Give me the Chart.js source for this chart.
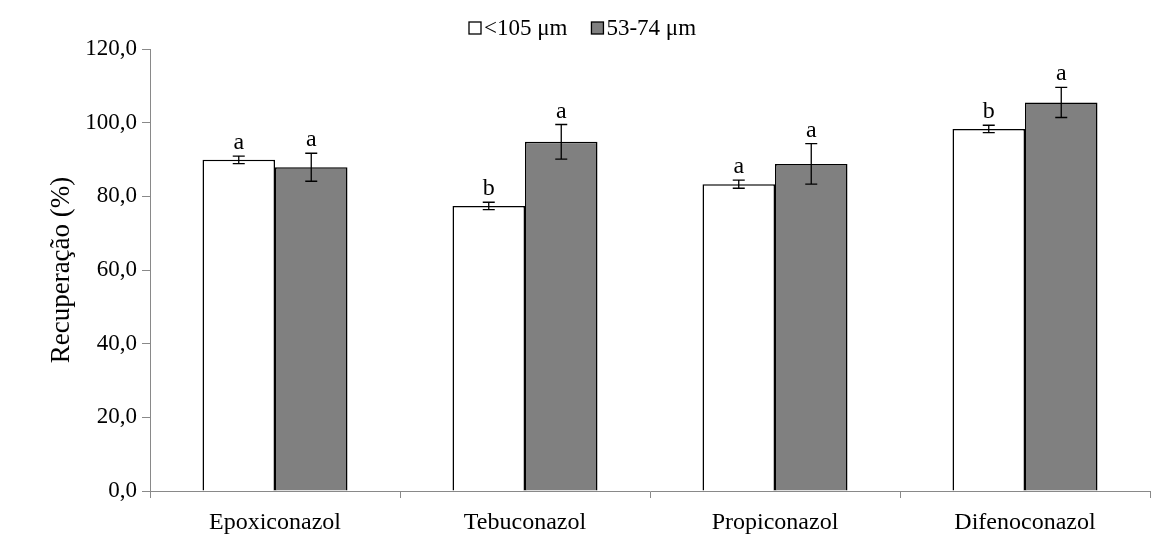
<!DOCTYPE html>
<html>
<head>
<meta charset="utf-8">
<script src="https://cdn.jsdelivr.net/npm/chart.js@4.4.0/dist/chart.umd.min.js"></script>
<style>
  html, body { margin: 0; padding: 0; background: #fff; }
  #wrap { width: 1151px; height: 539px; }
</style>
</head>
<body>
<div id="wrap"><canvas id="chart" width="1151" height="539"></canvas></div>
<script>
const categories = ["Epoxiconazol", "Tebuconazol", "Propiconazol", "Difenoconazol"]
const seriesNames = ["<105 μm", "53-74 μm"]
const fineValues = [89.9, 77.4, 83.3, 98.3]
const fineErrors = [1.0, 1.0, 1.1, 1.0]
const fineLetters = ["a", "b", "a", "b"]
const coarseValues = [87.9, 94.8, 88.8, 105.5]
const coarseErrors = [3.8, 4.7, 5.5, 4.1]
const coarseLetters = ["a", "a", "a", "a"]
const yTicks = [0, 20, 40, 60, 80, 100, 120]

const serif = "'Liberation Serif', 'Times New Roman', serif"
const axisGray = "#898989"

// error bars + significance letters on top of each bar
const errorBarPlugin = {
  id: "errorBars",
  afterDatasetsDraw(chart) {
    const ctx = chart.ctx
    const yScale = chart.scales.y
    chart.data.datasets.forEach((ds, i) => {
      const meta = chart.getDatasetMeta(i)
      meta.data.forEach((bar, j) => {
        const v = ds.data[j]
        const e = ds.errors[j]
        const yTop = yScale.getPixelForValue(v + e)
        const yBot = yScale.getPixelForValue(v - e)
        ctx.save()
        ctx.strokeStyle = "#000"
        ctx.lineWidth = 1.3
        ctx.beginPath()
        ctx.moveTo(bar.x, yTop); ctx.lineTo(bar.x, yBot)
        ctx.moveTo(bar.x - 6, yTop); ctx.lineTo(bar.x + 6, yTop)
        ctx.moveTo(bar.x - 6, yBot); ctx.lineTo(bar.x + 6, yBot)
        ctx.stroke()
        ctx.fillStyle = "#000"
        ctx.font = "24px " + serif
        ctx.textAlign = "center"
        ctx.textBaseline = "alphabetic"
        ctx.fillText(ds.letters[j], bar.x, yTop - 7)
        ctx.restore()
      })
    })
  }
}

// legend drawn manually so it sits where the original has it
const legendPlugin = {
  id: "customLegend",
  afterDraw(chart) {
    const ctx = chart.ctx
    ctx.save()
    ctx.font = "23px " + serif
    ctx.textBaseline = "middle"
    let x = 469
    const y = 28
    chart.data.datasets.forEach((ds) => {
      ctx.fillStyle = ds.backgroundColor
      ctx.fillRect(x, y - 6, 12, 12)
      ctx.strokeStyle = "#000"
      ctx.lineWidth = 1.3
      ctx.strokeRect(x, y - 6, 12, 12)
      ctx.fillStyle = "#000"
      ctx.fillText(ds.label, x + 15, y + 1)
      x += 15 + ctx.measureText(ds.label).width + 24
    })
    ctx.restore()
  }
}

new Chart(document.getElementById("chart"), {
  type: "bar",
  data: {
    labels: categories,
    datasets: [
      {
        label: seriesNames[0],
        data: fineValues,
        errors: fineErrors,
        letters: fineLetters,
        backgroundColor: "#ffffff",
        borderColor: "#000000",
        borderWidth: 1.5,
        borderSkipped: "bottom"
      },
      {
        label: seriesNames[1],
        data: coarseValues,
        errors: coarseErrors,
        letters: coarseLetters,
        backgroundColor: "#808080",
        borderColor: "#000000",
        borderWidth: 1.5,
        borderSkipped: "bottom"
      }
    ]
  },
  options: {
    responsive: false,
    animation: false,
    categoryPercentage: 0.58,
    barPercentage: 1.0,
    layout: { padding: { top: 49, right: 1, left: 0, bottom: 0 } },
    plugins: {
      legend: { display: false },
      tooltip: { enabled: false }
    },
    scales: {
      x: {
        grid: { display: true, drawOnChartArea: false, offset: true, tickLength: 7, color: axisGray },
        border: { color: axisGray, width: 1 },
        ticks: { color: "#000", font: { family: serif, size: 24 }, padding: 10 },
        afterFit: (scale) => { scale.height = 48 }
      },
      y: {
        min: 0,
        max: 120,
        afterBuildTicks: (scale) => { scale.ticks = yTicks.map(v => ({ value: v })) },
        grid: { display: true, drawOnChartArea: false, tickLength: 8, color: axisGray },
        border: { color: axisGray, width: 1 },
        ticks: {
          color: "#000",
          font: { family: serif, size: 23 },
          padding: 5,
          callback: (v) => v.toFixed(1).replace(".", ",")
        },
        title: {
          display: true,
          text: "Recuperação (%)",
          color: "#000",
          font: { family: serif, size: 27 },
          padding: { top: 46, bottom: 10 }
        },
        afterFit: (scale) => { scale.width = 150 }
      }
    }
  },
  plugins: [errorBarPlugin, legendPlugin]
})
</script>
</body>
</html>
